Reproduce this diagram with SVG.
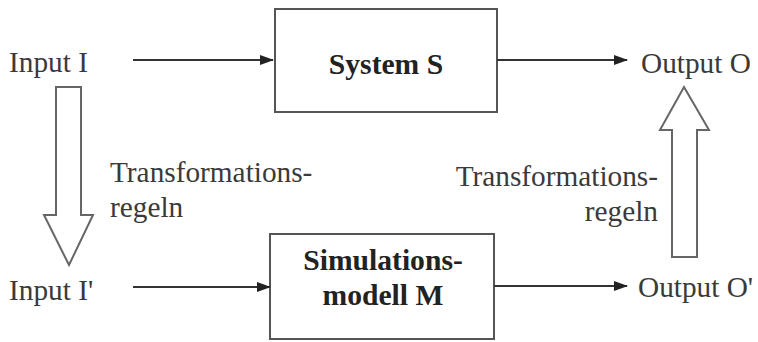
<svg xmlns="http://www.w3.org/2000/svg" width="758" height="342" viewBox="0 0 758 342">
<defs>
<marker id="ah" markerWidth="14" markerHeight="10" refX="13" refY="5" orient="auto" markerUnits="userSpaceOnUse">
<path d="M0,0 L14,5 L0,10 Z" fill="#222"/>
</marker>
<style>
.t{font-family:"Liberation Serif","Times New Roman",serif;font-size:29.3px;fill:#3a3a3a}
.b{font-weight:bold;font-size:29.6px;fill:#222}
.box{fill:#fff;stroke:#555;stroke-width:2}
.ln{stroke:#333;stroke-width:2.2;fill:none}
.hol{fill:#fff;stroke:#666;stroke-width:2}
</style>
</defs>
<rect width="758" height="342" fill="#fff"/>
<g id="input-i"><text class="t" x="9" y="72">Input I</text></g>
<g id="input-i2"><text class="t" x="9" y="300">Input I'</text></g>
<g id="output-o"><text class="t" x="641" y="73">Output O</text></g>
<g id="output-o2"><text class="t" x="638" y="297">Output O'</text></g>
<g id="system-s">
<rect class="box" x="275" y="9" width="222" height="103"/>
<text class="t b" x="386" y="74" text-anchor="middle">System S</text>
</g>
<g id="sim-m">
<rect class="box" x="270" y="234" width="224" height="105"/>
<text class="t b" x="383" y="270" text-anchor="middle">Simulations-</text>
<text class="t b" x="383" y="305" text-anchor="middle">modell M</text>
</g>
<g id="trans-left">
<text class="t" x="110" y="182">Transformations-</text>
<text class="t" x="110" y="217">regeln</text>
</g>
<g id="trans-right">
<text class="t" x="658" y="186" text-anchor="end">Transformations-</text>
<text class="t" x="658" y="221" text-anchor="end">regeln</text>
</g>
<g id="connectors">
<line class="ln" x1="133" y1="60" x2="273" y2="60" marker-end="url(#ah)"/>
<line class="ln" x1="497" y1="60" x2="627" y2="60" marker-end="url(#ah)"/>
<line class="ln" x1="133" y1="287" x2="270" y2="287" marker-end="url(#ah)"/>
<line class="ln" x1="494" y1="286" x2="627" y2="286" marker-end="url(#ah)"/>
<path class="hol" d="M56,87 L81,87 L81,215 L93,215 L69,265 L44,215 L56,215 Z"/>
<path class="hol" d="M684,87 L709,130 L697,130 L697,257 L672,257 L672,130 L660,130 Z"/>
</g>
</svg>
